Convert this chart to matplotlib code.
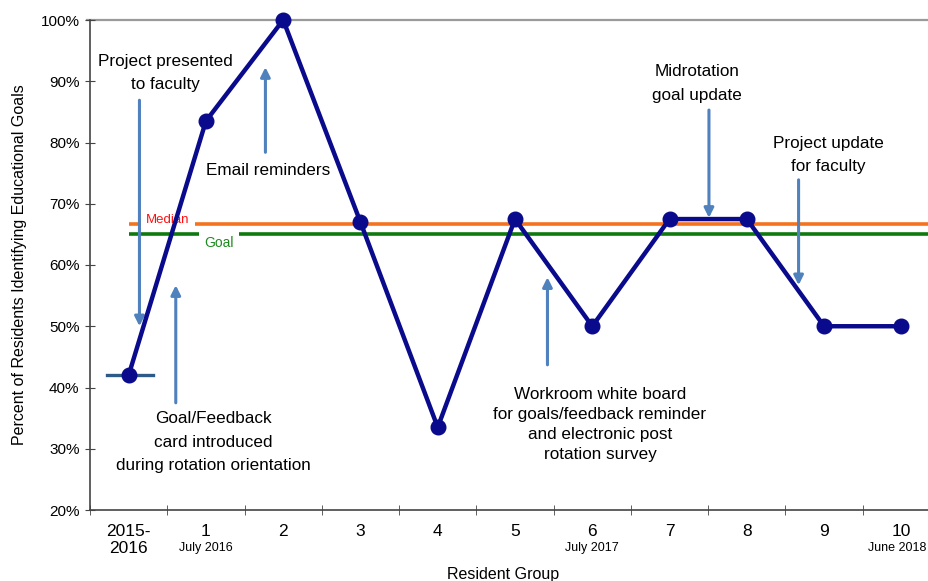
import matplotlib
matplotlib.use("Agg")
import matplotlib.pyplot as plt
from matplotlib.font_manager import fontManager
import matplotlib.transforms as mtransforms

names = {f.name for f in fontManager.ttflist}
narrow = 'Liberation Sans Narrow' if 'Liberation Sans Narrow' in names else 'Liberation Sans'
plt.rcParams['font.family'] = ['Liberation Sans', 'DejaVu Sans']

# ---- data ----
groups = ["2015-\n2016", "1", "2", "3", "4", "5", "6", "7", "8", "9", "10"]
dates = {1: "July 2016", 6: "July 2017", 10: "June 2018"}
pct = [0.42, 0.835, 1.00, 0.67, 0.335, 0.675, 0.50, 0.675, 0.675, 0.50, 0.50]
median_val = 0.667
goal_val = 0.65
baseline_val = 0.42
yticks = [0.2, 0.3, 0.4, 0.5, 0.6, 0.7, 0.8, 0.9, 1.0]

# annotations: (text, text_x, text_y(center), arrow_x, tail_y, head_y, linespacing)
notes = [
    ("Project presented\nto faculty", 0.47, 0.913, 0.14, 0.869, 0.50, 1.7),
    ("Goal/Feedback\ncard introduced\nduring rotation orientation", 1.10, 0.311, 0.61, 0.375, 0.567, 1.7),
    ("Email reminders", 1.80, 0.755, 1.77, 0.784, 0.923, 1.7),
    ("Midrotation\ngoal update", 7.36, 0.896, 7.51, 0.853, 0.677, 1.7),
    ("Workroom white board\nfor goals/feedback reminder\nand electronic post\nrotation survey", 6.1, 0.340, 5.42, 0.437, 0.58, 1.42),
    ("Project update\nfor faculty", 9.05, 0.780, 8.67, 0.739, 0.567, 1.7),
]

fig = plt.figure(figsize=(9.29, 5.81), dpi=100)
ax = fig.add_axes([90/929, 71/581, (940-90)/929, 490/581])

x = list(range(len(groups)))
ax.set_xlim(-0.5, 10.5)
ax.set_ylim(0.2, 1.0)

arrow_c = '#4F81BD'
# top gridline at 100%
ax.plot([-0.54, 10.6], [1.0, 1.0], color='#9A9A9A', lw=1.6, zorder=1, clip_on=False)
# median and goal lines
ax.plot([0, 10.6], [median_val, median_val], color='#F5731F', lw=2.6, zorder=2, solid_capstyle='butt')
ax.plot([0, 10.6], [goal_val, goal_val], color='#0E7A0E', lw=2.6, zorder=2, solid_capstyle='butt')
ax.text(0.51, 0.673, "Median", color='#FF1010', fontsize=9.5, ha='center', va='center',
        bbox=dict(facecolor='white', edgecolor='none', pad=3.5), zorder=3)
ax.text(1.17, 0.636, "Goal", color='#1E8A1E', fontsize=10, ha='center', va='center',
        bbox=dict(facecolor='white', edgecolor='none', pad=4), zorder=3)

# baseline short line
ax.plot([-0.28, 0.31], [baseline_val, baseline_val], color='#2E5A8A', lw=2.4, zorder=4)

# arrows
for txt, tx, ty, axx, tail, head, ls in notes:
    ax.annotate("", xy=(axx, head), xytext=(axx, tail),
                arrowprops=dict(arrowstyle='-|>', color=arrow_c, lw=2.2, mutation_scale=14,
                                shrinkA=0, shrinkB=0), zorder=3)
    ax.text(tx, ty, txt, ha='center', va='center', fontsize=12.3, linespacing=ls, zorder=6)

# main series
ax.plot(x, pct, color='#0A0A8C', lw=3.2, marker='o', markersize=10.5, zorder=5, clip_on=False)

# axes styling
for s in ['top', 'right']:
    ax.spines[s].set_visible(False)
for s in ['left', 'bottom']:
    ax.spines[s].set_color('#444444')
    ax.spines[s].set_linewidth(1.2)

ax.set_yticks(yticks)
ax.set_yticklabels([f"{int(round(v*100))}%" for v in yticks], fontsize=11)
ax.tick_params(axis='y', direction='inout', length=7, pad=4, color='#444444')

ax.set_xticks(x)
ax.set_xticklabels(groups, fontsize=12.5, family=[narrow, 'Liberation Sans'], linespacing=1.15)
ax.set_xticks([i - 0.5 for i in range(12)], minor=True)
ax.tick_params(axis='x', which='major', length=0, pad=10)
ax.tick_params(axis='x', which='minor', direction='inout', length=7, color='#444444')

trans = mtransforms.blended_transform_factory(ax.transData, ax.transAxes)
for i, d in dates.items():
    xi = i if i < 10 else 9.95
    ax.text(xi, -0.078, d, transform=trans, ha='center', va='center', fontsize=9,
            family=[narrow, 'Liberation Sans'])

ax.set_ylabel("Percent of Residents Identifying Educational Goals", fontsize=11.5, labelpad=10)
fig.text(503/929, 1 - 574/581, "Resident Group", ha='center', va='center', fontsize=11.5)

fig.savefig("out.png", dpi=100)
